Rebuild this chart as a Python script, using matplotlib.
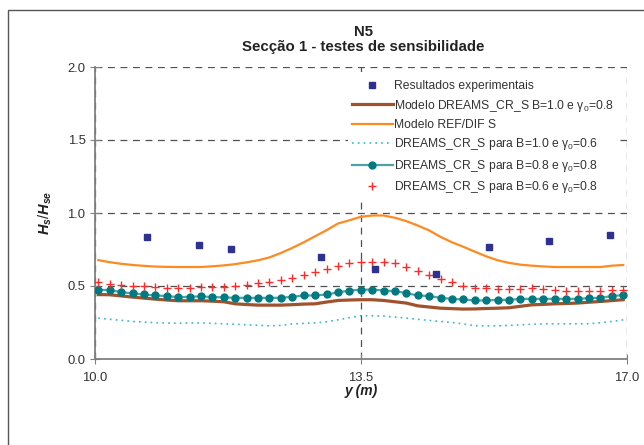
import matplotlib
matplotlib.use("Agg")
import matplotlib.pyplot as plt
from matplotlib.patches import Rectangle

plt.rcParams["font.family"] = ["Liberation Sans", "DejaVu Sans"]
plt.rcParams["mathtext.fontset"] = "custom"
plt.rcParams["mathtext.rm"] = "Liberation Sans"
plt.rcParams["mathtext.it"] = "Liberation Sans:italic:bold"

# cross-shore positions of model output (m)
y_model = [10.05, 10.20, 10.35, 10.50, 10.65, 10.80, 10.95, 11.10, 11.25, 11.40,
           11.55, 11.70, 11.85, 12.00, 12.15, 12.30, 12.45, 12.60, 12.75, 12.90,
           13.05, 13.20, 13.35, 13.50, 13.65, 13.80, 13.95, 14.10, 14.25, 14.40,
           14.55, 14.70, 14.85, 15.00, 15.15, 15.30, 15.45, 15.60, 15.75, 15.90,
           16.05, 16.20, 16.35, 16.50, 16.65, 16.80, 16.95]

# experimental results
y_exp = [10.69, 11.38, 11.80, 12.98, 13.69, 14.49, 15.19, 15.98, 16.77]
h_exp = [0.834, 0.781, 0.753, 0.699, 0.619, 0.580, 0.770, 0.806, 0.848]

# DREAMS_CR_S B=1.0, gamma0=0.8
h_dreams = [0.441, 0.440, 0.432, 0.424, 0.417, 0.410, 0.404, 0.399, 0.399, 0.399,
            0.396, 0.392, 0.378, 0.373, 0.369, 0.369, 0.369, 0.372, 0.376, 0.378,
            0.390, 0.401, 0.404, 0.406, 0.406, 0.401, 0.392, 0.383, 0.364, 0.356,
            0.348, 0.345, 0.342, 0.343, 0.346, 0.348, 0.351, 0.361, 0.371, 0.374,
            0.378, 0.380, 0.383, 0.389, 0.394, 0.400, 0.406]

# REF/DIF S
h_refdif = [0.677, 0.663, 0.652, 0.644, 0.638, 0.633, 0.631, 0.630, 0.630, 0.630,
            0.635, 0.641, 0.650, 0.662, 0.676, 0.696, 0.726, 0.761, 0.799, 0.841,
            0.882, 0.928, 0.950, 0.974, 0.983, 0.983, 0.967, 0.944, 0.914, 0.880,
            0.836, 0.799, 0.768, 0.735, 0.703, 0.676, 0.658, 0.646, 0.639, 0.634,
            0.630, 0.630, 0.630, 0.630, 0.630, 0.639, 0.644]

# DREAMS_CR_S B=1.0, gamma0=0.6
h_b10_g06 = [0.280, 0.272, 0.265, 0.257, 0.253, 0.249, 0.246, 0.245, 0.246, 0.247,
             0.244, 0.241, 0.238, 0.234, 0.231, 0.227, 0.230, 0.240, 0.244, 0.247,
             0.255, 0.268, 0.283, 0.296, 0.296, 0.294, 0.287, 0.280, 0.272, 0.264,
             0.257, 0.250, 0.240, 0.228, 0.227, 0.227, 0.230, 0.234, 0.238, 0.241,
             0.241, 0.241, 0.241, 0.241, 0.248, 0.257, 0.268]

# DREAMS_CR_S B=0.8, gamma0=0.8
h_b08_g08 = [0.474, 0.472, 0.458, 0.449, 0.442, 0.435, 0.431, 0.424, 0.426, 0.429,
             0.424, 0.422, 0.419, 0.419, 0.419, 0.419, 0.419, 0.426, 0.435, 0.435,
             0.442, 0.456, 0.469, 0.474, 0.476, 0.469, 0.465, 0.451, 0.435, 0.431,
             0.419, 0.412, 0.408, 0.401, 0.401, 0.405, 0.405, 0.412, 0.412, 0.412,
             0.412, 0.412, 0.412, 0.417, 0.419, 0.431, 0.438]

# DREAMS_CR_S B=0.6, gamma0=0.8
h_b06_g08 = [0.527, 0.515, 0.506, 0.502, 0.497, 0.493, 0.488, 0.488, 0.488, 0.493,
             0.493, 0.495, 0.502, 0.506, 0.520, 0.527, 0.538, 0.557, 0.575, 0.598,
             0.616, 0.634, 0.655, 0.667, 0.667, 0.662, 0.655, 0.627, 0.602, 0.575,
             0.550, 0.527, 0.502, 0.486, 0.486, 0.479, 0.479, 0.479, 0.486, 0.479,
             0.474, 0.469, 0.463, 0.463, 0.469, 0.474, 0.474]

x_ticks = [10.0, 13.5, 17.0]
y_ticks = [0.0, 0.5, 1.0, 1.5, 2.0]

fig = plt.figure(figsize=(6.44, 4.45), dpi=100)
ax = fig.add_axes([94.5 / 644, 1 - 359 / 445, (627 - 94.5) / 644, (359 - 67) / 445])

ax.plot(y_exp, h_exp, ls="none", marker="s", ms=4.5, color="#2E3192",
        label="Resultados experimentais", zorder=6)
ax.plot(y_model, h_dreams, color="#A0522D", lw=2.3,
        label="Modelo DREAMS_CR_S B=1.0 e γ$_0$=0.8", zorder=3)
ax.plot(y_model, h_refdif, color="#FF8A1F", lw=1.6,
        label="Modelo REF/DIF S", zorder=3)
ax.plot(y_model, h_b10_g06, color="#35B8CF", lw=1.2, ls=(0, (1, 2.5)),
        label="DREAMS_CR_S para B=1.0 e γ$_0$=0.6", zorder=3)
ax.plot(y_model, h_b08_g08, color="#4FA3A8", lw=1.6, marker="o", ms=5,
        mfc="#007A80", mec="#007A80",
        label="DREAMS_CR_S para B=0.8 e γ$_0$=0.8", zorder=4)
ax.plot(y_model, h_b06_g08, ls="none", marker="+", ms=5.5, mew=1.0,
        color="#FF2A2A", label="DREAMS_CR_S para B=0.6 e γ$_0$=0.8", zorder=5)

ax.set_xlim(10.0, 17.0)
ax.set_ylim(0.0, 2.0)
ax.set_xticks(x_ticks)
ax.set_xticklabels([f"{v:.1f}" for v in x_ticks])
ax.set_yticks(y_ticks)
ax.set_yticklabels([f"{v:.1f}" for v in y_ticks])
ax.tick_params(direction="inout", length=7, width=0.8, color="#808080",
               labelsize=9.4, labelcolor="#333333")
ax.tick_params(axis="x", pad=6)
ax.tick_params(axis="y", pad=3)

ax.grid(True, color="#505050", lw=0.9, ls=(0, (5.5, 4.5)))
ax.set_axisbelow(True)
for side in ("top", "right"):
    ax.spines[side].set_visible(False)
for side in ("left", "bottom"):
    ax.spines[side].set_color("#808080")
    ax.spines[side].set_linewidth(1.3)

ax.set_xlabel("y (m)", fontsize=10, fontweight="bold", fontstyle="italic",
              color="#222222", labelpad=0)
ax.set_ylabel(r"$H_s/H_{se}$", fontsize=10.5, color="#222222", labelpad=10)

fig.text(0.5637, 1 - 31.5 / 445, "N5", ha="center", va="center",
         fontsize=10.8, fontweight="bold", color="#222222")
fig.text(0.5637, 1 - 47.5 / 445, "Secção 1 - testes de sensibilidade",
         ha="center", va="center", fontsize=10.8, fontweight="bold", color="#222222")

leg = ax.legend(loc="upper left", bbox_to_anchor=(0.465, 0.988), fontsize=8.7,
                frameon=True, fancybox=False, edgecolor="none", facecolor="white",
                framealpha=1.0, handlelength=3.4, handletextpad=0.1,
                labelspacing=0.45, borderpad=0.3)
for t in leg.get_texts():
    t.set_color("#333333")

fig.add_artist(Rectangle((8 / 644, -0.1), 1.0, 1 - 10 / 445 + 0.1,
                         transform=fig.transFigure, fill=False,
                         ec="#555555", lw=1.0))

fig.savefig("out.png", dpi=100)
